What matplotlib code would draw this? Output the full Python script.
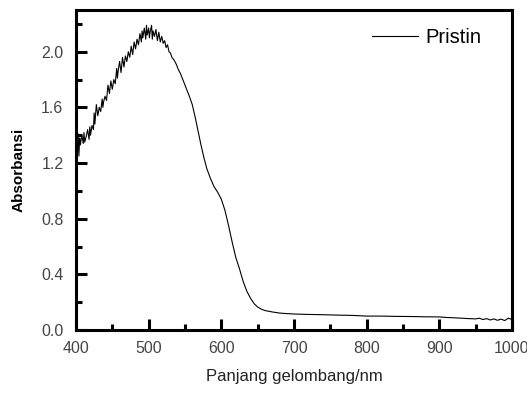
import matplotlib
matplotlib.use("Agg")
import matplotlib.pyplot as plt
from matplotlib.ticker import MultipleLocator

plt.rcParams['font.family'] = ['Liberation Sans', 'DejaVu Sans']

# wavelength (nm) and absorbance
wavelength = [
    400, 401, 402, 403, 404, 405, 406, 408, 410, 411, 412, 414, 416, 418, 419, 420, 422, 424, 425, 426, 428,
    430, 432, 434, 436, 437, 438, 440, 442, 444, 446, 448, 450, 452, 454, 456, 457, 458,
    460, 462, 464, 466, 468, 470, 472, 474, 476, 478, 480, 482, 484, 486, 488,
    490, 491, 492, 494, 496, 497, 498, 500, 501, 502, 504, 505, 506, 508, 510, 512, 514, 516, 518,
    520, 522, 524, 526, 528, 530, 532, 535, 538, 541, 544, 547, 550, 553, 556,
    560, 564, 568, 572, 576, 580, 585, 590, 595, 600, 605, 610, 615, 620, 625,
    630, 635, 640, 645, 650, 655, 660, 670, 680, 690, 700, 720, 740, 760, 780,
    800, 820, 840, 860, 880, 900, 910, 920, 930, 940, 950, 955, 960, 965, 970,
    975, 980, 985, 990, 995, 1000,
]
absorbance = [
    1.30, 1.36, 1.27, 1.41, 1.25, 1.38, 1.33, 1.40, 1.34, 1.42, 1.35, 1.39, 1.44, 1.37, 1.46, 1.40, 1.47, 1.44, 1.56, 1.48, 1.62,
    1.54, 1.60, 1.57, 1.66, 1.60, 1.64, 1.68, 1.65, 1.76, 1.70, 1.79, 1.73, 1.80, 1.77, 1.88, 1.81, 1.86,
    1.93, 1.85, 1.96, 1.89, 1.97, 1.93, 2.00, 1.96, 2.04, 1.98, 2.07, 2.02, 2.09, 2.05, 2.13,
    2.07, 2.15, 2.10, 2.17, 2.09, 2.19, 2.12, 2.17, 2.10, 2.14, 2.19, 2.09, 2.15, 2.11, 2.16, 2.08, 2.14, 2.07, 2.11,
    2.06, 2.08, 2.03, 2.05, 2.00, 1.99, 1.96, 1.94, 1.91, 1.87, 1.84, 1.80, 1.76, 1.72, 1.68,
    1.62, 1.53, 1.43, 1.33, 1.24, 1.16, 1.09, 1.03, 0.99, 0.94, 0.86, 0.75, 0.63, 0.52, 0.44,
    0.35, 0.28, 0.23, 0.19, 0.165, 0.15, 0.14, 0.13, 0.122, 0.118, 0.115, 0.112, 0.11, 0.107, 0.105,
    0.10, 0.10, 0.098, 0.097, 0.095, 0.094, 0.09, 0.088, 0.085, 0.082, 0.08, 0.085, 0.075, 0.082, 0.072,
    0.08, 0.07, 0.078, 0.068, 0.085, 0.075,
]
xticks = [400, 500, 600, 700, 800, 900, 1000]
yticks = [0.0, 0.4, 0.8, 1.2, 1.6, 2.0]

fig = plt.figure(figsize=(5.27, 3.99), dpi=100)
ax = fig.add_axes([0.1442, 0.1729, 0.8273, 0.8021])

ax.plot(wavelength, absorbance, color='black', linewidth=0.8, label='Pristin')

ax.set_xlim(400, 1000)
ax.set_ylim(0, 2.3)
ax.set_xticks(xticks)
ax.set_yticks(yticks)
ax.set_xticklabels([str(t) for t in xticks])
ax.set_yticklabels([f"{t:.1f}" for t in yticks])
ax.xaxis.set_minor_locator(MultipleLocator(50))
ax.yaxis.set_minor_locator(MultipleLocator(0.2))

ax.tick_params(which='both', direction='in', width=2.2, colors='black',
               labelcolor='#444444', labelsize=11.5)
ax.tick_params(which='major', length=8)
ax.tick_params(which='minor', length=4)
ax.tick_params(axis='x', which='major', pad=8)
ax.tick_params(axis='y', which='major', pad=9)
ax.tick_params(top=False, right=False)
for s in ax.spines.values():
    s.set_linewidth(2.2)

ax.set_xlabel('Panjang gelombang/nm', fontsize=12, color='#222222', labelpad=9)
ax.set_ylabel('Absorbansi', fontsize=11, fontweight='bold', labelpad=11)

ax.legend(loc='upper right', frameon=False, fontsize=14.5, handlelength=2.3,
          handletextpad=0.35, borderpad=0, borderaxespad=0,
          bbox_to_anchor=(0.93, 0.945))

fig.savefig('out.png', dpi=100)
